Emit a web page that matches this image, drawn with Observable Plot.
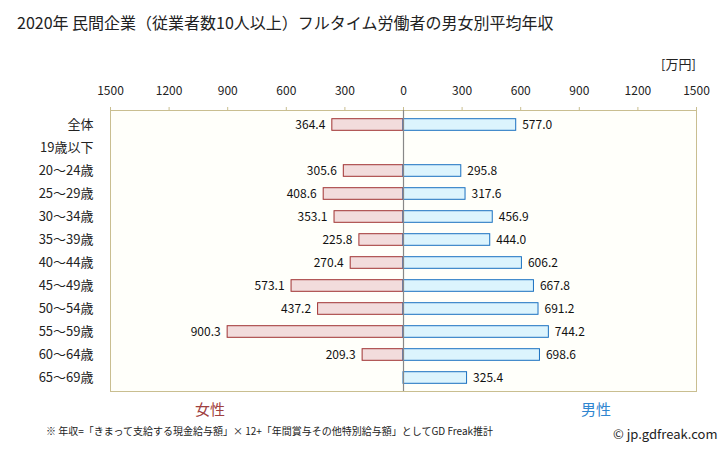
<!DOCTYPE html>
<html><head><meta charset="utf-8">
<script src="https://cdn.jsdelivr.net/npm/d3@7"></script>
<script src="https://cdn.jsdelivr.net/npm/@observablehq/plot@0.6"></script>
<style>
body{margin:0;background:#fff;font-family:"Noto Sans CJK JP",sans-serif;}
#wrap{position:relative;width:728px;height:451px;}
.abs{position:absolute;white-space:nowrap;}
</style></head>
<body><div id="wrap">
<div class="abs" style="left:17px;top:10px;font-size:16px;color:#222;">2020年 民間企業（従業者数10人以上）フルタイム労働者の男女別平均年収</div>
<div class="abs" style="left:661px;top:54px;font-size:13px;color:#222;">[万円]</div>
<div class="abs" style="left:195px;top:398px;font-size:15px;color:#a04040;">女性</div>
<div class="abs" style="left:581px;top:398px;font-size:15px;color:#2f86d0;">男性</div>
<div class="abs" style="left:46px;top:423px;font-size:10px;color:#222;">※ 年収=「きまって支給する現金給与額」× 12+「年間賞与その他特別給与額」としてGD Freak推計</div>
<div class="abs" style="left:613px;top:424px;font-size:13px;color:#222;">© jp.gdfreak.com</div>
</div>
<script>
const categories = ["全体","19歳以下","20〜24歳","25〜29歳","30〜34歳","35〜39歳","40〜44歳","45〜49歳","50〜54歳","55〜59歳","60〜64歳","65〜69歳"];
const female = [364.4, null, 305.6, 408.6, 353.1, 225.8, 270.4, 573.1, 437.2, 900.3, 209.3, null];
const male = [577.0, null, 295.8, 317.6, 456.9, 444.0, 606.2, 667.8, 691.2, 744.2, 698.6, 325.4];
const xTicks = [-1500,-1200,-900,-600,-300,0,300,600,900,1200,1500];

const fData = categories.map((c,i)=>({c, v: female[i]})).filter(d=>d.v!=null);
const mData = categories.map((c,i)=>({c, v: male[i]})).filter(d=>d.v!=null);

const chart = Plot.plot({
  width: 728, height: 451,
  marginTop: 110, marginLeft: 110, marginRight: 32, marginBottom: 60,
  style: {fontFamily: '"Noto Sans CJK JP", sans-serif', fontSize: "12px", color: "#222", background: "transparent"},
  x: {domain: [-1500, 1500]},
  y: {domain: categories, padding: 0},
  marks: [
    Plot.frame({fill: "#fffffa", stroke: "#c9be90"}),
    Plot.axisX({anchor: "top", ticks: xTicks, tickFormat: d => String(Math.abs(d)), tickSize: 4, tickPadding: 12, stroke: "#c9be90", fontSize: 12, label: null}),
    Plot.axisY({tickSize: 0, tickPadding: 17, fontSize: 13, label: null}),
    Plot.barX(fData, {y: "c", x1: 0, x2: d => -d.v, fill: "#f2dcdc", stroke: "#a03232", strokeWidth: 1, insetTop: 5.7, insetBottom: 5.7}),
    Plot.barX(mData, {y: "c", x1: 0, x2: "v", fill: "#dcf4fd", stroke: "#1a70c0", strokeWidth: 1, insetTop: 5.7, insetBottom: 5.7}),
    Plot.ruleX([0], {stroke: "#888", strokeWidth: 1.2}),
    Plot.text(fData, {y: "c", x: d => -d.v, text: d => d.v.toFixed(1), textAnchor: "end", dx: -7, fontSize: 12, fill: "#111"}),
    Plot.text(mData, {y: "c", x: "v", text: d => d.v.toFixed(1), textAnchor: "start", dx: 6, fontSize: 12, fill: "#111"})
  ]
});
chart.style.position = "absolute";
chart.style.left = "0px";
chart.style.top = "0px";
document.getElementById("wrap").appendChild(chart);
</script>
</body></html>
